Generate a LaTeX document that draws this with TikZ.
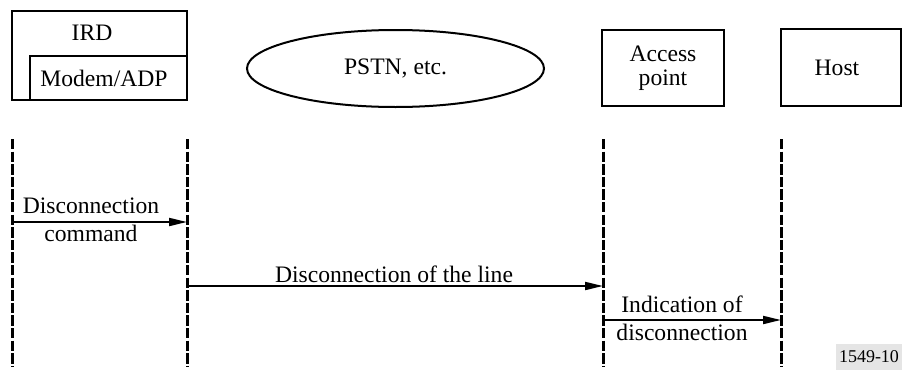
\documentclass[tikz,border=0pt]{standalone}
\usepackage{fontspec}
\setmainfont{Liberation Serif}
\usetikzlibrary{arrows.meta,shapes.geometric}
\begin{document}
\begin{tikzpicture}[x=0.5pt,y=-0.5pt,
  font=\fontsize{11.8}{12}\selectfont,
  box/.style={draw,line width=1pt,rectangle,inner sep=0pt},
  lifeline/.style={line width=1.5pt,dash pattern=on 5.2pt off 1.1pt},
  msg/.style={line width=1pt,-{Triangle[length=9pt,width=4pt]}},
  lbl/.style={align=center,inner sep=0pt}]
\useasboundingbox (0,0) rectangle (902,370);
% entities
\node[box,minimum width=87.5pt,minimum height=44.5pt] (ird) at (99.5,55.5) {};
\node[box,minimum width=78.5pt,minimum height=22pt] (modembox) at (108.5,78) {};
\node[lbl] (irdtext) at (92,32.5) {IRD};
\node[lbl] (modemtext) at (104,78.5) {Modem/ADP};
\node[draw,line width=1pt,ellipse,inner sep=0pt,minimum width=148.5pt,minimum height=38.5pt] (pstn) at (395.5,68.5) {PSTN, etc.};
\node[box,lbl,minimum width=61pt,minimum height=38pt,font=\fontsize{11.8}{12}\selectfont] (ap) at (663,68) {Access\\point};
\node[box,minimum width=60pt,minimum height=38.5pt] (host) at (841,67.5) {};
\node[lbl] (hosttext) at (837,67.5) {Host};
% lifelines
\coordinate (l1t) at (12,139);  \coordinate (l1b) at (12,366);
\coordinate (l2t) at (187,139); \coordinate (l2b) at (187,366);
\coordinate (l3t) at (603,139); \coordinate (l3b) at (603,366);
\coordinate (l4t) at (781,139); \coordinate (l4b) at (781,366);
\draw[lifeline] (l1t) -- (l1b);
\draw[lifeline] (l2t) -- (l2b);
\draw[lifeline] (l3t) -- (l3b);
\draw[lifeline] (l4t) -- (l4b);
% messages
\coordinate (m1a) at (12,222);  \coordinate (m1b) at (187,222);
\coordinate (m2a) at (187,286); \coordinate (m2b) at (603,286);
\coordinate (m3a) at (603,320); \coordinate (m3b) at (781,320);
\draw[msg] (m1a) -- (m1b);
\draw[msg] (m2a) -- (m2b);
\draw[msg] (m3a) -- (m3b);
\node[lbl] (t1a) at (91,206) {Disconnection};
\node[lbl] (t1b) at (91,233) {command};
\node[lbl] (t2) at (394,274) {Disconnection of the line};
\node[lbl] (t3a) at (682,304) {Indication of};
\node[lbl] (t3b) at (682,332) {disconnection};
% figure number
\node[fill=black!10,inner sep=1.5pt,font=\fontsize{9}{10}\selectfont,minimum height=13pt] (fig) at (869,357) {1549-10};
\end{tikzpicture}
\end{document}
